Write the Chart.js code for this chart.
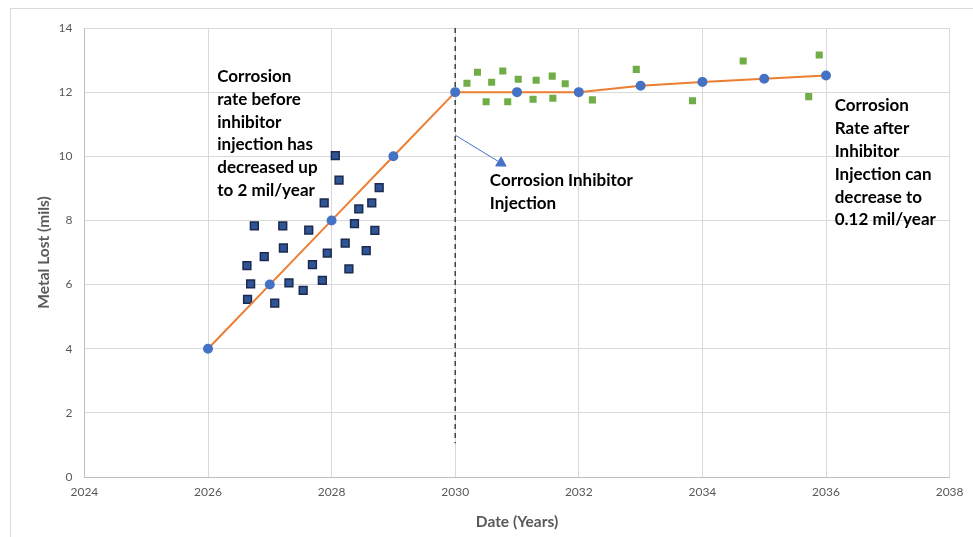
<!DOCTYPE html>
<html>
<head>
<meta charset="utf-8">
<script src="https://cdn.jsdelivr.net/npm/chart.js@4.4.1/dist/chart.umd.min.js"></script>
<style>
  html, body { margin: 0; padding: 0; background: #fff; }
  #frame { position: absolute; left: 10px; top: 8px; width: 980px; height: 540px; border: 1px solid #d9d9d9; }
  #wrap { position: absolute; left: 0; top: 0; width: 973px; height: 537px; }
</style>
</head>
<body>
<div id="frame"></div>
<div id="wrap"><canvas id="chart"></canvas></div>
<script>
// trend line (blue dots + orange line)
const lineYears = [2026, 2027, 2028, 2029, 2030, 2031, 2032, 2033, 2034, 2035, 2036];
const lineLoss  = [4, 6, 8, 10, 12, 12, 12, 12.2, 12.32, 12.42, 12.52];

// measurements before inhibitor (navy squares)
const beforeYears = [2028.06, 2028.12, 2028.77, 2027.88, 2028.44, 2028.65, 2026.75, 2027.21, 2027.63,
                     2028.37, 2028.70, 2028.22, 2027.22, 2027.93, 2026.91, 2028.56, 2026.63, 2027.69,
                     2028.28, 2026.69, 2027.31, 2027.85, 2027.54, 2026.64, 2027.08];
const beforeLoss  = [10.02, 9.26, 9.02, 8.55, 8.36, 8.55, 7.83, 7.83, 7.70,
                     7.90, 7.69, 7.29, 7.14, 6.98, 6.87, 7.06, 6.59, 6.62,
                     6.49, 6.02, 6.05, 6.13, 5.82, 5.54, 5.42];

// measurements after inhibitor (green squares)
const afterYears = [2030.19, 2030.36, 2030.50, 2030.59, 2030.77, 2030.85, 2031.02, 2031.26, 2031.31,
                    2031.57, 2031.58, 2031.78, 2032.22, 2032.93, 2033.84, 2034.66, 2035.72, 2035.89];
const afterLoss  = [12.28, 12.62, 11.70, 12.31, 12.66, 11.70, 12.40, 11.78, 12.37,
                    12.50, 11.81, 12.26, 11.76, 12.71, 11.73, 12.97, 11.86, 13.16];

// injection marker + arrow
const injectionYear = 2030;
const injectionSpan = [14, 1.05];
const arrowYears = [2030, 2030.74];
const arrowLoss  = [10.66, 9.79];

const xTicks = [2024, 2026, 2028, 2030, 2032, 2034, 2036, 2038];
const yTicks = [0, 2, 4, 6, 8, 10, 12, 14];

const notes = [
    { x: 2026.15, y: 12.49, lines: ["Corrosion", "rate before", "inhibitor", "injection has", "decreased up", "to 2 mil/year"] },
    { x: 2030.56, y: 9.23,  lines: ["Corrosion Inhibitor", "Injection"] },
    { x: 2036.14, y: 11.57, lines: ["Corrosion", "Rate after", "Inhibitor", "Injection can", "decrease to", "0.12 mil/year"] }
];

const pts = (xs, ys) => xs.map((x, i) => ({ x: x, y: ys[i] }));

// draws the text boxes at data coordinates
const notesPlugin = {
    id: "notes",
    afterDatasetsDraw(chart) {
        const { ctx, scales: { x, y } } = chart;
        ctx.save();
        ctx.fillStyle = "#000";
        ctx.font = "bold 17px Lato";
        ctx.textBaseline = "middle";
        notes.forEach(n => {
            const px = x.getPixelForValue(n.x);
            const py = y.getPixelForValue(n.y);
            n.lines.forEach((t, i) => ctx.fillText(t, px, py + i * 22.8));
        });
        ctx.restore();
    }
};

new Chart(document.getElementById("chart"), {
    type: "scatter",
    data: {
        datasets: [
            {
                label: "Trend",
                data: pts(lineYears, lineLoss),
                showLine: true,
                borderColor: "#ED7D31",
                borderWidth: 2,
                pointBackgroundColor: "#4472C4",
                pointBorderColor: "#4472C4",
                pointRadius: 4,
                order: 1
            },
            {
                label: "Before",
                data: pts(beforeYears, beforeLoss),
                pointStyle: "rect",
                pointRadius: 5.5,
                backgroundColor: "#2F5597",
                borderColor: "#1B2A4E",
                borderWidth: 1.5,
                order: 2
            },
            {
                label: "After",
                data: pts(afterYears, afterLoss),
                pointStyle: "rect",
                pointRadius: 5,
                backgroundColor: "#70AD47",
                borderColor: "#70AD47",
                borderWidth: 0,
                order: 2
            },
            {
                label: "Injection",
                data: pts([injectionYear, injectionYear], injectionSpan),
                showLine: true,
                borderColor: "#404040",
                borderWidth: 1.5,
                borderDash: [5, 4],
                pointRadius: 0,
                order: 3
            },
            {
                label: "Arrow",
                data: pts(arrowYears, arrowLoss),
                showLine: true,
                borderColor: "#4472C4",
                borderWidth: 1,
                backgroundColor: "#4472C4",
                pointStyle: "triangle",
                pointRadius: [0, 6],
                rotation: [0, 121],
                order: 3
            }
        ]
    },
    options: {
        responsive: true,
        maintainAspectRatio: false,
        animation: false,
        layout: { padding: { left: 0, top: 28, right: 23.4, bottom: 0 } },
        plugins: {
            legend: { display: false },
            tooltip: { enabled: false }
        },
        scales: {
            x: {
                type: "linear",
                min: 2024,
                max: 2038,
                afterBuildTicks: s => { s.ticks = xTicks.map(v => ({ value: v })); },
                afterFit: s => { s.height = 60; },
                grid: { color: "#d9d9d9", drawTicks: false },
                border: { color: "#bfbfbf" },
                ticks: {
                    color: "#595959",
                    font: { family: "Lato", size: 12 },
                    padding: 8,
                    maxRotation: 0,
                    callback: v => String(v)
                },
                title: {
                    display: true,
                    text: "Date (Years)",
                    color: "#595959",
                    font: { family: "Lato", size: 15.5, weight: "bold" },
                    padding: { bottom: 6, top: 0 }
                }
            },
            y: {
                min: 0,
                max: 14,
                afterBuildTicks: s => { s.ticks = yTicks.map(v => ({ value: v })); },
                afterFit: s => { s.width = 84.4; },
                grid: { color: "#d9d9d9", drawTicks: false },
                border: { color: "#bfbfbf" },
                ticks: {
                    color: "#595959",
                    font: { family: "Lato", size: 12 },
                    padding: 12
                },
                title: {
                    display: true,
                    text: "Metal Lost (mils)",
                    color: "#595959",
                    font: { family: "Lato", size: 15.5, weight: "bold" },
                    padding: { top: 35, bottom: 0 }
                }
            }
        }
    },
    plugins: [notesPlugin]
});
</script>
</body>
</html>
